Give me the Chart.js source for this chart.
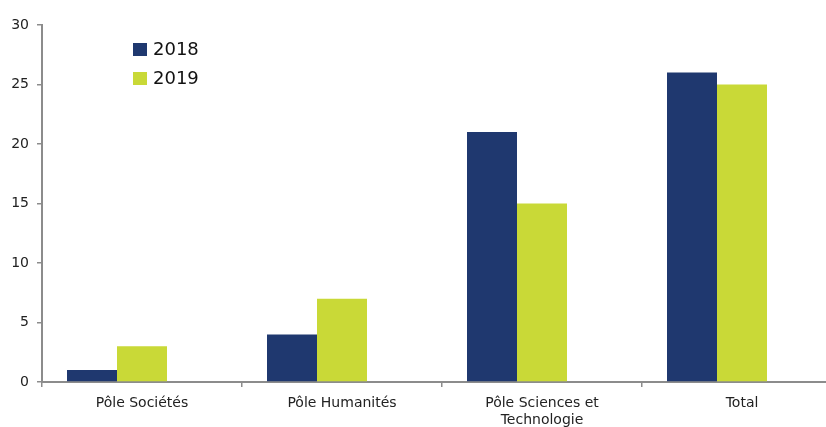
<!DOCTYPE html>
<html>
<head>
<meta charset="utf-8">
<script src="https://cdn.jsdelivr.net/npm/chart.js@4"></script>
<style>
  html, body { margin: 0; padding: 0; background: #fff; }
  #wrap { width: 826px; height: 427px; overflow: hidden; position: relative; }
</style>
</head>
<body>
<div id="wrap"><canvas id="chart" width="850" height="427"></canvas></div>
<script>
// Chart data
const categories = ['Pôle Sociétés', 'Pôle Humanités', ['Pôle Sciences et', 'Technologie'], 'Total'];
const values2018 = [1, 4, 21, 26];
const values2019 = [3, 7, 15, 25];
const valuesEmpty = [null, null, null, null]; // third (empty) series of the original chart
const yTicks = [0, 5, 10, 15, 20, 25, 30];

const navy = '#1F386F';
const lime = '#C9D937';
const axisGrey = '#8C8C8C';
const font = 'DejaVu Sans';

// Legend drawn inside the plot, top left
const legendBox = {
    id: 'legendBox',
    afterDraw(chart) {
        const ctx = chart.ctx;
        ctx.save();
        ctx.font = '18px "' + font + '"';
        ctx.textBaseline = 'middle';
        ctx.textAlign = 'left';
        chart.data.datasets.slice(0, 2).forEach((ds, i) => {
            const y = 43 + i * 29;
            ctx.fillStyle = ds.backgroundColor;
            ctx.fillRect(133, y, 14, 13);
            ctx.fillStyle = '#111';
            ctx.fillText(ds.label, 153, y + 7);
        });
        ctx.restore();
    }
};

new Chart(document.getElementById('chart'), {
    type: 'bar',
    data: {
        labels: categories,
        datasets: [
            { label: '2018', data: values2018, backgroundColor: navy },
            { label: '2019', data: values2019, backgroundColor: lime },
            { label: '', data: valuesEmpty, backgroundColor: '#ffffff' }
        ]
    },
    options: {
        responsive: false,
        animation: false,
        layout: { padding: { top: 25, right: 8, left: 0, bottom: 0 } },
        datasets: { bar: { categoryPercentage: 0.75, barPercentage: 1.0 } },
        plugins: { legend: { display: false }, tooltip: { enabled: false } },
        scales: {
            x: {
                grid: { offset: true, drawOnChartArea: false, drawTicks: true, tickLength: 5, color: axisGrey, lineWidth: 1.5 },
                border: { color: axisGrey, width: 2 },
                ticks: { color: '#222', font: { family: font, size: 14 }, padding: 8, maxRotation: 0, autoSkip: false },
                afterFit(scale) { scale.height = 45; }
            },
            y: {
                min: 0,
                max: 30,
                afterBuildTicks(scale) { scale.ticks = yTicks.map(v => ({ value: v })); },
                grid: { drawOnChartArea: false, drawTicks: true, tickLength: 5, color: axisGrey, lineWidth: 1.5 },
                border: { color: axisGrey, width: 2 },
                ticks: { color: '#222', font: { family: font, size: 14 }, padding: 8 },
                afterFit(scale) { scale.width = 42; }
            }
        }
    },
    plugins: [legendBox]
});
</script>
</body>
</html>
